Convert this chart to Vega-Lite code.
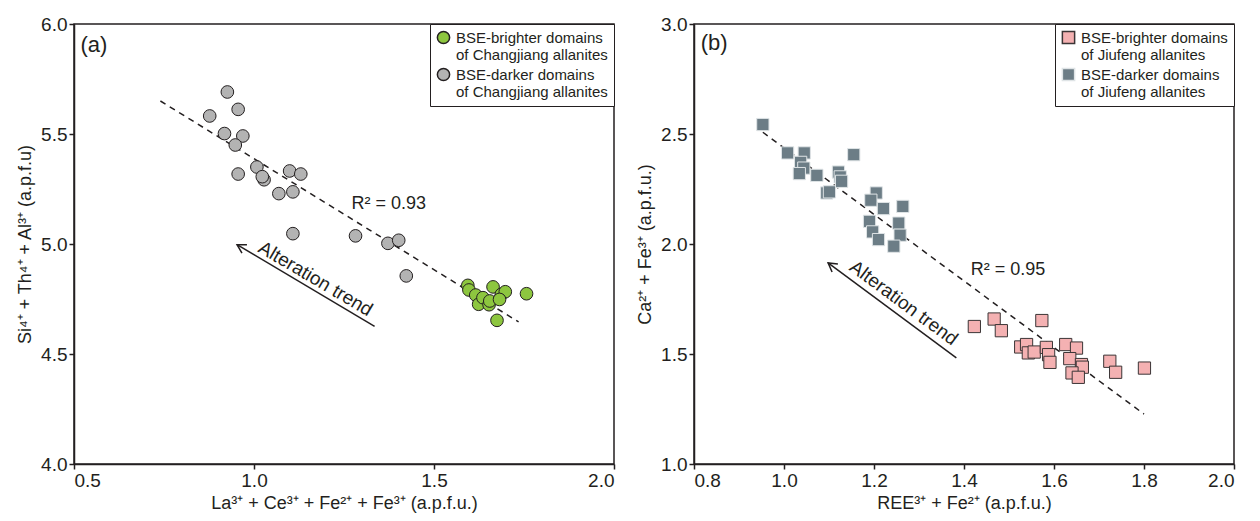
{
  "$schema": "https://vega.github.io/schema/vega-lite/v6.json",
  "padding": {"left": 15, "top": 14, "right": 5, "bottom": 5},
  "spacing": 19,
  "config": {
    "font": "Liberation Sans",
    "view": {"stroke": "#231f20", "strokeWidth": 1.5},
    "axis": {
      "grid": false,
      "domainColor": "#231f20",
      "domainWidth": 1.5,
      "tickColor": "#231f20",
      "tickWidth": 1.5,
      "tickSize": 5,
      "labelFontSize": 19,
      "labelColor": "#231f20",
      "labelPadding": 2,
      "titleFontSize": 18,
      "titleFontWeight": "normal",
      "titleColor": "#231f20",
      "labelFont": "Liberation Sans",
      "titleFont": "Liberation Sans"
    },
    "legend": {
      "orient": "top-right",
      "offset": 0,
      "title": null,
      "strokeColor": "#231f20",
      "fillColor": "white",
      "padding": 6,
      "cornerRadius": 0,
      "labelFontSize": 15,
      "labelFont": "Liberation Sans",
      "labelColor": "#231f20",
      "labelOffset": 5,
      "rowPadding": 2,
      "symbolSize": 150,
      "labelBaseline": "middle"
    }
  },
  "datasets": {
    "a_points": [
      {"x": 0.877, "y": 5.582, "group": "BSE-darker domains\nof Changjiang allanites"},
      {"x": 0.926, "y": 5.691, "group": "BSE-darker domains\nof Changjiang allanites"},
      {"x": 0.956, "y": 5.612, "group": "BSE-darker domains\nof Changjiang allanites"},
      {"x": 0.918, "y": 5.502, "group": "BSE-darker domains\nof Changjiang allanites"},
      {"x": 0.969, "y": 5.491, "group": "BSE-darker domains\nof Changjiang allanites"},
      {"x": 0.948, "y": 5.450, "group": "BSE-darker domains\nof Changjiang allanites"},
      {"x": 0.956, "y": 5.318, "group": "BSE-darker domains\nof Changjiang allanites"},
      {"x": 1.008, "y": 5.350, "group": "BSE-darker domains\nof Changjiang allanites"},
      {"x": 1.028, "y": 5.292, "group": "BSE-darker domains\nof Changjiang allanites"},
      {"x": 1.023, "y": 5.306, "group": "BSE-darker domains\nof Changjiang allanites"},
      {"x": 1.069, "y": 5.229, "group": "BSE-darker domains\nof Changjiang allanites"},
      {"x": 1.099, "y": 5.332, "group": "BSE-darker domains\nof Changjiang allanites"},
      {"x": 1.130, "y": 5.318, "group": "BSE-darker domains\nof Changjiang allanites"},
      {"x": 1.108, "y": 5.237, "group": "BSE-darker domains\nof Changjiang allanites"},
      {"x": 1.108, "y": 5.047, "group": "BSE-darker domains\nof Changjiang allanites"},
      {"x": 1.282, "y": 5.037, "group": "BSE-darker domains\nof Changjiang allanites"},
      {"x": 1.372, "y": 5.003, "group": "BSE-darker domains\nof Changjiang allanites"},
      {"x": 1.402, "y": 5.017, "group": "BSE-darker domains\nof Changjiang allanites"},
      {"x": 1.423, "y": 4.855, "group": "BSE-darker domains\nof Changjiang allanites"},
      {"x": 1.594, "y": 4.812, "group": "BSE-brighter domains\nof Changjiang allanites"},
      {"x": 1.597, "y": 4.791, "group": "BSE-brighter domains\nof Changjiang allanites"},
      {"x": 1.616, "y": 4.768, "group": "BSE-brighter domains\nof Changjiang allanites"},
      {"x": 1.624, "y": 4.726, "group": "BSE-brighter domains\nof Changjiang allanites"},
      {"x": 1.636, "y": 4.756, "group": "BSE-brighter domains\nof Changjiang allanites"},
      {"x": 1.653, "y": 4.724, "group": "BSE-brighter domains\nof Changjiang allanites"},
      {"x": 1.655, "y": 4.741, "group": "BSE-brighter domains\nof Changjiang allanites"},
      {"x": 1.664, "y": 4.805, "group": "BSE-brighter domains\nof Changjiang allanites"},
      {"x": 1.687, "y": 4.771, "group": "BSE-brighter domains\nof Changjiang allanites"},
      {"x": 1.698, "y": 4.783, "group": "BSE-brighter domains\nof Changjiang allanites"},
      {"x": 1.682, "y": 4.748, "group": "BSE-brighter domains\nof Changjiang allanites"},
      {"x": 1.757, "y": 4.774, "group": "BSE-brighter domains\nof Changjiang allanites"},
      {"x": 1.675, "y": 4.653, "group": "BSE-brighter domains\nof Changjiang allanites"}
    ],
    "a_fit": [{"x": 0.74, "y": 5.65}, {"x": 1.735, "y": 4.646}],
    "a_arrow": [{"x": 1.335, "y": 4.626}, {"x": 0.953, "y": 4.997}],
    "a_head": [{"x": 0.953, "y": 4.997}],
    "a_labels": [
      {"x": 0.518, "y": 5.905, "label": "(a)", "kind": "panel"},
      {"x": 1.271, "y": 5.183, "label": "R² = 0.93", "kind": "r2"}
    ],
    "a_trend": [{"x": 1.171, "y": 4.842, "label": "Alteration trend"}],
    "b_points": [
      {"x": 0.953, "y": 2.543, "group": "BSE-darker domains\nof Jiufeng allanites"},
      {"x": 1.008, "y": 2.414, "group": "BSE-darker domains\nof Jiufeng allanites"},
      {"x": 1.045, "y": 2.414, "group": "BSE-darker domains\nof Jiufeng allanites"},
      {"x": 1.037, "y": 2.371, "group": "BSE-darker domains\nof Jiufeng allanites"},
      {"x": 1.044, "y": 2.345, "group": "BSE-darker domains\nof Jiufeng allanites"},
      {"x": 1.034, "y": 2.320, "group": "BSE-darker domains\nof Jiufeng allanites"},
      {"x": 1.073, "y": 2.312, "group": "BSE-darker domains\nof Jiufeng allanites"},
      {"x": 1.095, "y": 2.232, "group": "BSE-darker domains\nof Jiufeng allanites"},
      {"x": 1.101, "y": 2.237, "group": "BSE-darker domains\nof Jiufeng allanites"},
      {"x": 1.121, "y": 2.327, "group": "BSE-darker domains\nof Jiufeng allanites"},
      {"x": 1.125, "y": 2.305, "group": "BSE-darker domains\nof Jiufeng allanites"},
      {"x": 1.128, "y": 2.285, "group": "BSE-darker domains\nof Jiufeng allanites"},
      {"x": 1.155, "y": 2.406, "group": "BSE-darker domains\nof Jiufeng allanites"},
      {"x": 1.205, "y": 2.232, "group": "BSE-darker domains\nof Jiufeng allanites"},
      {"x": 1.193, "y": 2.199, "group": "BSE-darker domains\nof Jiufeng allanites"},
      {"x": 1.221, "y": 2.161, "group": "BSE-darker domains\nof Jiufeng allanites"},
      {"x": 1.264, "y": 2.171, "group": "BSE-darker domains\nof Jiufeng allanites"},
      {"x": 1.190, "y": 2.103, "group": "BSE-darker domains\nof Jiufeng allanites"},
      {"x": 1.255, "y": 2.095, "group": "BSE-darker domains\nof Jiufeng allanites"},
      {"x": 1.197, "y": 2.055, "group": "BSE-darker domains\nof Jiufeng allanites"},
      {"x": 1.258, "y": 2.040, "group": "BSE-darker domains\nof Jiufeng allanites"},
      {"x": 1.210, "y": 2.020, "group": "BSE-darker domains\nof Jiufeng allanites"},
      {"x": 1.244, "y": 1.990, "group": "BSE-darker domains\nof Jiufeng allanites"},
      {"x": 1.423, "y": 1.625, "group": "BSE-brighter domains\nof Jiufeng allanites"},
      {"x": 1.467, "y": 1.659, "group": "BSE-brighter domains\nof Jiufeng allanites"},
      {"x": 1.483, "y": 1.606, "group": "BSE-brighter domains\nof Jiufeng allanites"},
      {"x": 1.573, "y": 1.652, "group": "BSE-brighter domains\nof Jiufeng allanites"},
      {"x": 1.526, "y": 1.532, "group": "BSE-brighter domains\nof Jiufeng allanites"},
      {"x": 1.539, "y": 1.543, "group": "BSE-brighter domains\nof Jiufeng allanites"},
      {"x": 1.543, "y": 1.505, "group": "BSE-brighter domains\nof Jiufeng allanites"},
      {"x": 1.556, "y": 1.509, "group": "BSE-brighter domains\nof Jiufeng allanites"},
      {"x": 1.583, "y": 1.530, "group": "BSE-brighter domains\nof Jiufeng allanites"},
      {"x": 1.588, "y": 1.497, "group": "BSE-brighter domains\nof Jiufeng allanites"},
      {"x": 1.591, "y": 1.462, "group": "BSE-brighter domains\nof Jiufeng allanites"},
      {"x": 1.626, "y": 1.543, "group": "BSE-brighter domains\nof Jiufeng allanites"},
      {"x": 1.650, "y": 1.527, "group": "BSE-brighter domains\nof Jiufeng allanites"},
      {"x": 1.635, "y": 1.479, "group": "BSE-brighter domains\nof Jiufeng allanites"},
      {"x": 1.661, "y": 1.452, "group": "BSE-brighter domains\nof Jiufeng allanites"},
      {"x": 1.663, "y": 1.440, "group": "BSE-brighter domains\nof Jiufeng allanites"},
      {"x": 1.640, "y": 1.414, "group": "BSE-brighter domains\nof Jiufeng allanites"},
      {"x": 1.654, "y": 1.394, "group": "BSE-brighter domains\nof Jiufeng allanites"},
      {"x": 1.724, "y": 1.467, "group": "BSE-brighter domains\nof Jiufeng allanites"},
      {"x": 1.737, "y": 1.417, "group": "BSE-brighter domains\nof Jiufeng allanites"},
      {"x": 1.801, "y": 1.436, "group": "BSE-brighter domains\nof Jiufeng allanites"}
    ],
    "b_fit": [{"x": 0.953, "y": 2.508}, {"x": 1.80, "y": 1.227}],
    "b_arrow": [{"x": 1.383, "y": 1.482}, {"x": 1.098, "y": 1.914}],
    "b_head": [{"x": 1.098, "y": 1.914}],
    "b_labels": [
      {"x": 0.815, "y": 2.912, "label": "(b)", "kind": "panel"},
      {"x": 1.415, "y": 1.884, "label": "R² = 0.95", "kind": "r2"}
    ],
    "b_trend": [{"x": 1.266, "y": 1.732, "label": "Alteration trend"}]
  },
  "hconcat": [
    {
      "width": 540,
      "height": 440,
      "layer": [
        {
          "data": {"name": "a_fit"},
          "mark": {"type": "line", "color": "#231f20", "strokeWidth": 1.5, "strokeDash": [6, 5]},
          "encoding": {
            "x": {"field": "x", "type": "quantitative", "scale": {"domain": [0.5, 2.0], "nice": false, "zero": false},
              "axis": {"values": [0.5, 1.0, 1.5, 2.0], "format": ".1f", "title": "La³⁺ + Ce³⁺ + Fe²⁺ + Fe³⁺ (a.p.f.u.)", "titlePadding": 4}},
            "y": {"field": "y", "type": "quantitative", "scale": {"domain": [4.0, 6.0], "nice": false, "zero": false},
              "axis": {"values": [4.0, 4.5, 5.0, 5.5, 6.0], "format": ".1f", "title": "Si⁴⁺ + Th⁴⁺ + Al³⁺ (a.p.f.u)", "titlePadding": 6}}
          }
        },
        {
          "data": {"name": "a_arrow"},
          "mark": {"type": "line", "color": "#231f20", "strokeWidth": 1.5},
          "encoding": {
            "x": {"field": "x", "type": "quantitative"},
            "y": {"field": "y", "type": "quantitative"}
          }
        },
        {
          "data": {"name": "a_head"},
          "mark": {"type": "point", "shape": "M 1.4 -0.8 L 0 0 L 1.4 0.8", "filled": false, "stroke": "#231f20", "strokeWidth": 1.5, "size": 150, "angle": 30.6, "opacity": 1},
          "encoding": {
            "x": {"field": "x", "type": "quantitative"},
            "y": {"field": "y", "type": "quantitative"}
          }
        },
        {
          "data": {"name": "a_points"},
          "mark": {"type": "point", "shape": "circle", "filled": true, "stroke": "#231f20", "strokeWidth": 1, "size": 160, "opacity": 1},
          "encoding": {
            "x": {"field": "x", "type": "quantitative"},
            "y": {"field": "y", "type": "quantitative"},
            "color": {"field": "group", "type": "nominal",
              "scale": {"domain": ["BSE-brighter domains\nof Changjiang allanites", "BSE-darker domains\nof Changjiang allanites"], "range": ["#8dc63f", "#b3b3b3"]},
              "legend": {"labelExpr": "split(datum.label, '\\n')"}}
          }
        },
        {
          "data": {"name": "a_labels"},
          "mark": {"type": "text", "align": "left", "baseline": "middle", "color": "#231f20"},
          "encoding": {
            "x": {"field": "x", "type": "quantitative"},
            "y": {"field": "y", "type": "quantitative"},
            "text": {"field": "label"},
            "size": {"field": "kind", "type": "nominal", "scale": {"domain": ["panel", "r2"], "range": [22, 18]}, "legend": null}
          }
        },
        {
          "data": {"name": "a_trend"},
          "mark": {"type": "text", "align": "center", "baseline": "middle", "angle": 30.6, "fontSize": 19, "color": "#231f20"},
          "encoding": {
            "x": {"field": "x", "type": "quantitative"},
            "y": {"field": "y", "type": "quantitative"},
            "text": {"field": "label"}
          }
        }
      ]
    },
    {
      "width": 540,
      "height": 440,
      "layer": [
        {
          "data": {"name": "b_fit"},
          "mark": {"type": "line", "color": "#231f20", "strokeWidth": 1.5, "strokeDash": [6, 5]},
          "encoding": {
            "x": {"field": "x", "type": "quantitative", "scale": {"domain": [0.8, 2.0], "nice": false, "zero": false},
              "axis": {"values": [0.8, 1.0, 1.2, 1.4, 1.6, 1.8, 2.0], "format": ".1f", "title": "REE³⁺ + Fe²⁺ (a.p.f.u.)", "titlePadding": 4}},
            "y": {"field": "y", "type": "quantitative", "scale": {"domain": [1.0, 3.0], "nice": false, "zero": false},
              "axis": {"values": [1.0, 1.5, 2.0, 2.5, 3.0], "format": ".1f", "title": "Ca²⁺ + Fe³⁺ (a.p.f.u.)", "titlePadding": 6}}
          }
        },
        {
          "data": {"name": "b_arrow"},
          "mark": {"type": "line", "color": "#231f20", "strokeWidth": 1.5},
          "encoding": {
            "x": {"field": "x", "type": "quantitative"},
            "y": {"field": "y", "type": "quantitative"}
          }
        },
        {
          "data": {"name": "b_head"},
          "mark": {"type": "point", "shape": "M 1.4 -0.8 L 0 0 L 1.4 0.8", "filled": false, "stroke": "#231f20", "strokeWidth": 1.5, "size": 150, "angle": 36.5, "opacity": 1},
          "encoding": {
            "x": {"field": "x", "type": "quantitative"},
            "y": {"field": "y", "type": "quantitative"}
          }
        },
        {
          "data": {"name": "b_points"},
          "mark": {"type": "point", "shape": "square", "filled": true, "strokeWidth": 1, "size": 150, "opacity": 1},
          "encoding": {
            "x": {"field": "x", "type": "quantitative"},
            "y": {"field": "y", "type": "quantitative"},
            "fill": {"field": "group", "type": "nominal",
              "scale": {"domain": ["BSE-brighter domains\nof Jiufeng allanites", "BSE-darker domains\nof Jiufeng allanites"], "range": ["#f4b1b2", "#6c7d86"]},
              "legend": {"labelExpr": "split(datum.label, '\\n')"}},
            "stroke": {"field": "group", "type": "nominal",
              "scale": {"domain": ["BSE-brighter domains\nof Jiufeng allanites", "BSE-darker domains\nof Jiufeng allanites"], "range": ["#3b3536", "#dfe4e6"]},
              "legend": {"labelExpr": "split(datum.label, '\\n')"}}
          }
        },
        {
          "data": {"name": "b_labels"},
          "mark": {"type": "text", "align": "left", "baseline": "middle", "color": "#231f20"},
          "encoding": {
            "x": {"field": "x", "type": "quantitative"},
            "y": {"field": "y", "type": "quantitative"},
            "text": {"field": "label"},
            "size": {"field": "kind", "type": "nominal", "scale": {"domain": ["panel", "r2"], "range": [22, 18]}, "legend": null}
          }
        },
        {
          "data": {"name": "b_trend"},
          "mark": {"type": "text", "align": "center", "baseline": "middle", "angle": 36.5, "fontSize": 19, "color": "#231f20"},
          "encoding": {
            "x": {"field": "x", "type": "quantitative"},
            "y": {"field": "y", "type": "quantitative"},
            "text": {"field": "label"}
          }
        }
      ]
    }
  ],
  "resolve": {"scale": {"color": "independent", "fill": "independent", "stroke": "independent", "size": "independent", "x": "independent", "y": "independent"}, "legend": {"color": "independent", "fill": "independent", "stroke": "independent"}}
}
